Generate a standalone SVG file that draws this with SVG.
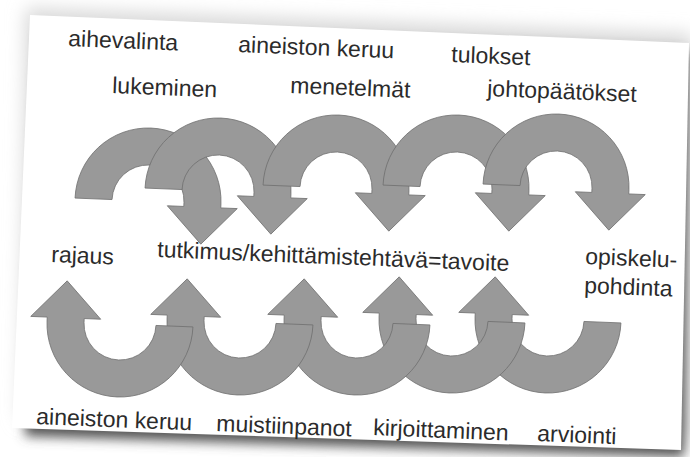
<svg xmlns="http://www.w3.org/2000/svg" width="690" height="457" viewBox="0 0 690 457">
<style>
.arr{fill:#999999;stroke:#6f6f6f;stroke-width:0.8}
.t{font-family:"Liberation Sans",Arial,sans-serif;font-size:23px;fill:#2b2b2b}
</style>
<defs>
<filter id="blur" x="-10%" y="-10%" width="120%" height="130%"><feGaussianBlur stdDeviation="6"/></filter>
<filter id="blur2" x="-10%" y="-20%" width="120%" height="140%"><feGaussianBlur stdDeviation="9"/></filter>
<path id="up" d="M-73 0A73 73 0 0 1 73 0L73 4L89.5 4L54.5 41L19.5 4L36 4L36 0A36 36 0 0 0 -36 0Z"/>
<path id="dn" d="M73 0A73 73 0 0 1 -73 0L-73 -4L-89.5 -4L-54.5 -41L-19.5 -4L-36 -4L-36 0A36 36 0 0 0 36 0Z"/>
</defs>
<rect width="690" height="457" fill="#ffffff"/>
<g id="slide">
<polygon points="26,8 692,34 690,440 20,420" fill="#d8d8d8" filter="url(#blur2)"/>
<polygon points="40,30 689,52 684,457 25,436" fill="#555555" filter="url(#blur)"/>
<polygon points="30,15 689,43 681,450 12,428" fill="#ffffff"/>
</g>
<g id="connectors">
<g id="A1" class="arr" transform="translate(148,201) rotate(2.3)"><use href="#up"/></g>
<g id="A2" class="arr" transform="translate(218,191) rotate(2.3)"><use href="#up"/></g>
<g id="A3" class="arr" transform="translate(336,188) rotate(2.3)"><use href="#up"/></g>
<g id="A4" class="arr" transform="translate(456,188) rotate(2.3)"><use href="#up"/></g>
<g id="A5" class="arr" transform="translate(556,187) rotate(2.3)"><use href="#up"/></g>
<g id="B5" class="arr" transform="translate(548,320) rotate(2.3)"><use href="#dn"/></g>
<g id="B4" class="arr" transform="translate(452,320) rotate(2.3)"><use href="#dn"/></g>
<g id="B3" class="arr" transform="translate(357,322) rotate(2.3)"><use href="#dn"/></g>
<g id="B2" class="arr" transform="translate(240,322) rotate(2.3)"><use href="#dn"/></g>
<g id="B1" class="arr" transform="translate(120,324) rotate(2.3)"><use href="#dn"/></g>
</g>
<g id="n-aihevalinta"><text class="t" transform="translate(68,46) rotate(2.3)">aihevalinta</text></g>
<g id="n-aineiston1"><text class="t" transform="translate(238,52) rotate(2.3)">aineiston keruu</text></g>
<g id="n-tulokset"><text class="t" transform="translate(451,62) rotate(2.3)">tulokset</text></g>
<g id="n-lukeminen"><text class="t" transform="translate(112,93) rotate(2.3)">lukeminen</text></g>
<g id="n-menetelmat"><text class="t" transform="translate(290,93) rotate(2.3)">menetelmät</text></g>
<g id="n-johtopaatokset"><text class="t" transform="translate(487,96) rotate(2.3)">johtopäätökset</text></g>
<g id="n-rajaus"><text class="t" transform="translate(51,262) rotate(2.3)">rajaus</text></g>
<g id="n-tutkimus"><text class="t" transform="translate(157,257) rotate(2.3)">tutkimus/kehittämistehtävä=tavoite</text></g>
<g id="n-opiskelu"><text class="t" transform="translate(585,264) rotate(2.3)">opiskelu-</text><text class="t" transform="translate(584,293) rotate(2.3)">pohdinta</text></g>
<g id="n-aineiston2"><text class="t" transform="translate(36,424) rotate(2.3)">aineiston keruu</text></g>
<g id="n-muistiinpanot"><text class="t" transform="translate(216,431) rotate(2.3)">muistiinpanot</text></g>
<g id="n-kirjoittaminen"><text class="t" transform="translate(373,435) rotate(2.3)">kirjoittaminen</text></g>
<g id="n-arviointi"><text class="t" transform="translate(537,441) rotate(2.3)">arviointi</text></g>
</svg>
